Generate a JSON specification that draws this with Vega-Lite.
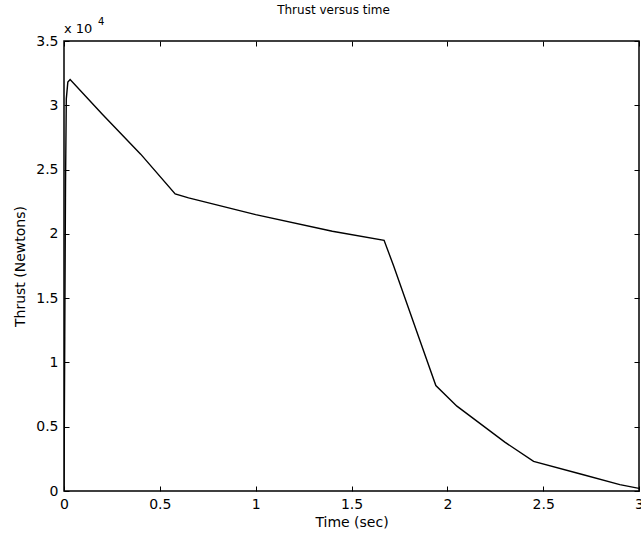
{
  "$schema": "https://vega.github.io/schema/vega-lite/v6.json",
  "autosize": "none",
  "padding": {"left": 64, "top": 41, "right": 2, "bottom": 47},
  "width": 575,
  "height": 450,
  "background": "white",
  "title": {"text": "Thrust versus time", "font": "DejaVu Sans", "fontSize": 12, "fontWeight": "normal", "color": "black", "frame": "group", "offset": 0, "dx": -18, "anchor": "middle"},
  "config": {
    "view": {"stroke": "black", "strokeWidth": 1.5},
    "axis": {"labelFont": "DejaVu Sans", "titleFont": "DejaVu Sans", "labelFontSize": 14, "titleFontSize": 14, "titleFontWeight": "normal", "labelColor": "black", "titleColor": "black", "domain": false, "grid": false, "tickColor": "black", "tickSize": -5, "tickWidth": 1}
  },
  "data": {"values": [
    {"t": 0.0, "thrust": 0},
    {"t": 0.004, "thrust": 12000},
    {"t": 0.008, "thrust": 24000},
    {"t": 0.012, "thrust": 30500},
    {"t": 0.02, "thrust": 31800},
    {"t": 0.032, "thrust": 32000},
    {"t": 0.2, "thrust": 29300},
    {"t": 0.4, "thrust": 26200},
    {"t": 0.58, "thrust": 23100},
    {"t": 0.65, "thrust": 22800},
    {"t": 1.0, "thrust": 21500},
    {"t": 1.4, "thrust": 20200},
    {"t": 1.67, "thrust": 19500},
    {"t": 1.72, "thrust": 17500},
    {"t": 1.85, "thrust": 12000},
    {"t": 1.94, "thrust": 8200},
    {"t": 2.05, "thrust": 6600},
    {"t": 2.3, "thrust": 3800},
    {"t": 2.45, "thrust": 2300},
    {"t": 2.7, "thrust": 1300},
    {"t": 2.9, "thrust": 500},
    {"t": 3.0, "thrust": 200}
  ]},
  "layer": [
    {
      "mark": {"type": "line", "color": "black", "strokeWidth": 1.4, "clip": true},
      "encoding": {
        "x": {"field": "t", "type": "quantitative", "scale": {"domain": [0, 3], "nice": false, "zero": false},
              "axis": {"title": "Time (sec)", "values": [0, 0.5, 1, 1.5, 2, 2.5, 3], "labelExpr": "datum.value + ''", "labelPadding": 11, "titlePadding": 4, "labelFlush": false}},
        "y": {"field": "thrust", "type": "quantitative", "scale": {"domain": [0, 35000], "nice": false},
              "axis": {"title": "Thrust (Newtons)", "values": [0, 5000, 10000, 15000, 20000, 25000, 30000, 35000], "labelExpr": "datum.value / 10000 + ''", "labelPadding": 11, "titlePadding": 8, "labelFlush": false}}
      }
    },
    {
      "mark": {"type": "line", "opacity": 0},
      "encoding": {
        "x": {"field": "t", "type": "quantitative", "scale": {"domain": [0, 3], "nice": false, "zero": false},
              "axis": {"orient": "top", "title": null, "labels": false, "values": [0, 0.5, 1, 1.5, 2, 2.5, 3]}},
        "y": {"field": "thrust", "type": "quantitative", "scale": {"domain": [0, 35000], "nice": false},
              "axis": {"orient": "right", "title": null, "labels": false, "values": [0, 5000, 10000, 15000, 20000, 25000, 30000, 35000]}}
      }
    },
    {
      "data": {"values": [{"t": 0, "thrust": 35000, "label": "x 10"}]},
      "mark": {"type": "text", "align": "left", "baseline": "bottom", "dx": 0, "dy": -5, "font": "DejaVu Sans", "fontSize": 13, "color": "black"},
      "encoding": {
        "x": {"field": "t", "type": "quantitative", "axis": null},
        "y": {"field": "thrust", "type": "quantitative", "axis": null},
        "text": {"field": "label"}
      }
    },
    {
      "data": {"values": [{"t": 0, "thrust": 35000, "label": "4"}]},
      "mark": {"type": "text", "align": "left", "baseline": "bottom", "dx": 34, "dy": -14, "font": "DejaVu Sans", "fontSize": 10, "color": "black"},
      "encoding": {
        "x": {"field": "t", "type": "quantitative", "axis": null},
        "y": {"field": "thrust", "type": "quantitative", "axis": null},
        "text": {"field": "label"}
      }
    }
  ],
  "resolve": {"axis": {"x": "independent", "y": "independent"}}
}
